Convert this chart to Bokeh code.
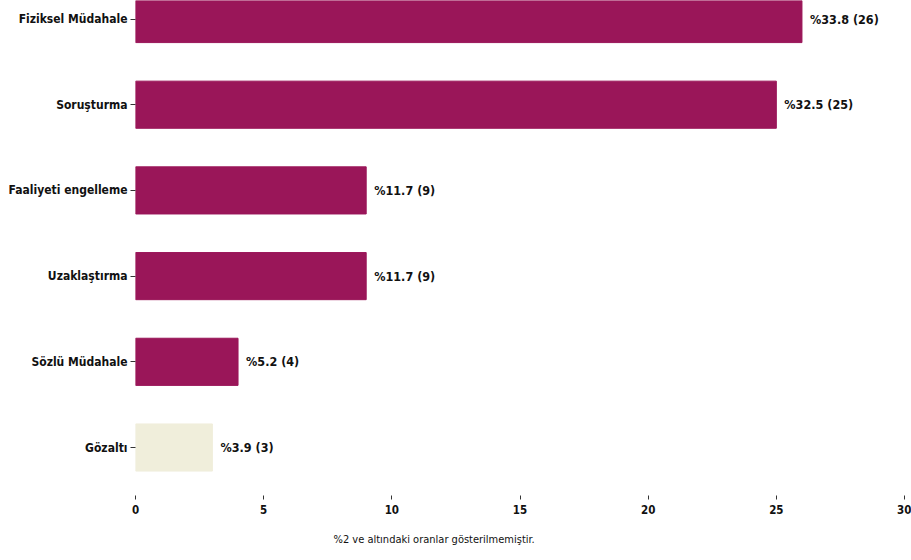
from bokeh.plotting import figure
from bokeh.models import Range1d, ColumnDataSource, FixedTicker, Title
from bokeh.embed import file_html
from bokeh.resources import INLINE
from bokeh.core.properties import value

categories = ["Gözaltı", "Sözlü Müdahale", "Uzaklaştırma", "Faaliyeti engelleme", "Soruşturma", "Fiziksel Müdahale"]
counts = [3, 4, 9, 9, 25, 26]
percents = [3.9, 5.2, 11.7, 11.7, 32.5, 33.8]
colors = ["#F0EEDB", "#9A1659", "#9A1659", "#9A1659", "#9A1659", "#9A1659"]
x_ticks = [0, 5, 10, 15, 20, 25, 30]
note = "%2 ve altındaki oranlar gösterilmemiştir."

FONT = "'Liberation Sans Narrow', 'DejaVu Sans Condensed', 'Roboto', sans-serif"

pos = list(range(len(categories)))
labels = ["%" + f"{p} ({c})" for p, c in zip(percents, counts)]
src = ColumnDataSource(dict(y=pos, right=counts, color=colors, label=labels))

p = figure(width=911, height=559, output_backend="svg", toolbar_location=None,
           x_range=Range1d(0, 30), y_range=Range1d(-0.56, 5.216),
           min_border_left=135, min_border_right=7, min_border_top=0,
           min_border_bottom=64)
p.outline_line_color = None
p.grid.grid_line_color = None
p.background_fill_color = "white"
p.border_fill_color = "white"

p.hbar(y="y", left=0, right="right", height=0.55, color="color", source=src)
p.text(x="right", y="y", text="label", source=src, x_offset=8,
       text_baseline="middle", text_align="left", text_font_size="12.5px",
       text_font=value(FONT), text_font_style="bold", text_color="#111111")

p.xaxis.ticker = FixedTicker(ticks=x_ticks)
p.xaxis.axis_line_color = None
p.xaxis.major_tick_in = 0
p.xaxis.major_tick_out = 4
p.xaxis.minor_tick_line_color = None
p.xaxis.major_tick_line_color = "#333333"
p.xaxis.major_label_text_font = FONT
p.xaxis.major_label_text_font_style = "bold"
p.xaxis.major_label_text_font_size = "11.5px"
p.xaxis.major_label_text_color = "#111111"
p.xaxis.major_label_standoff = 5

p.yaxis.ticker = FixedTicker(ticks=pos)
p.yaxis.major_label_overrides = {i: c for i, c in enumerate(categories)}
p.yaxis.axis_line_color = None
p.yaxis.major_tick_in = 0
p.yaxis.major_tick_out = 5
p.yaxis.minor_tick_line_color = None
p.yaxis.major_tick_line_color = "#333333"
p.yaxis.major_label_text_font = FONT
p.yaxis.major_label_text_font_style = "bold"
p.yaxis.major_label_text_font_size = "12px"
p.yaxis.major_label_text_color = "#111111"
p.yaxis.major_label_standoff = 3

t = Title(text=note, align="left", offset=198, standoff=28, text_font=FONT,
          text_font_style="normal", text_font_size="11px", text_color="#111111")
p.add_layout(t, "below")

open("out.html", "w").write(file_html(p, INLINE))
